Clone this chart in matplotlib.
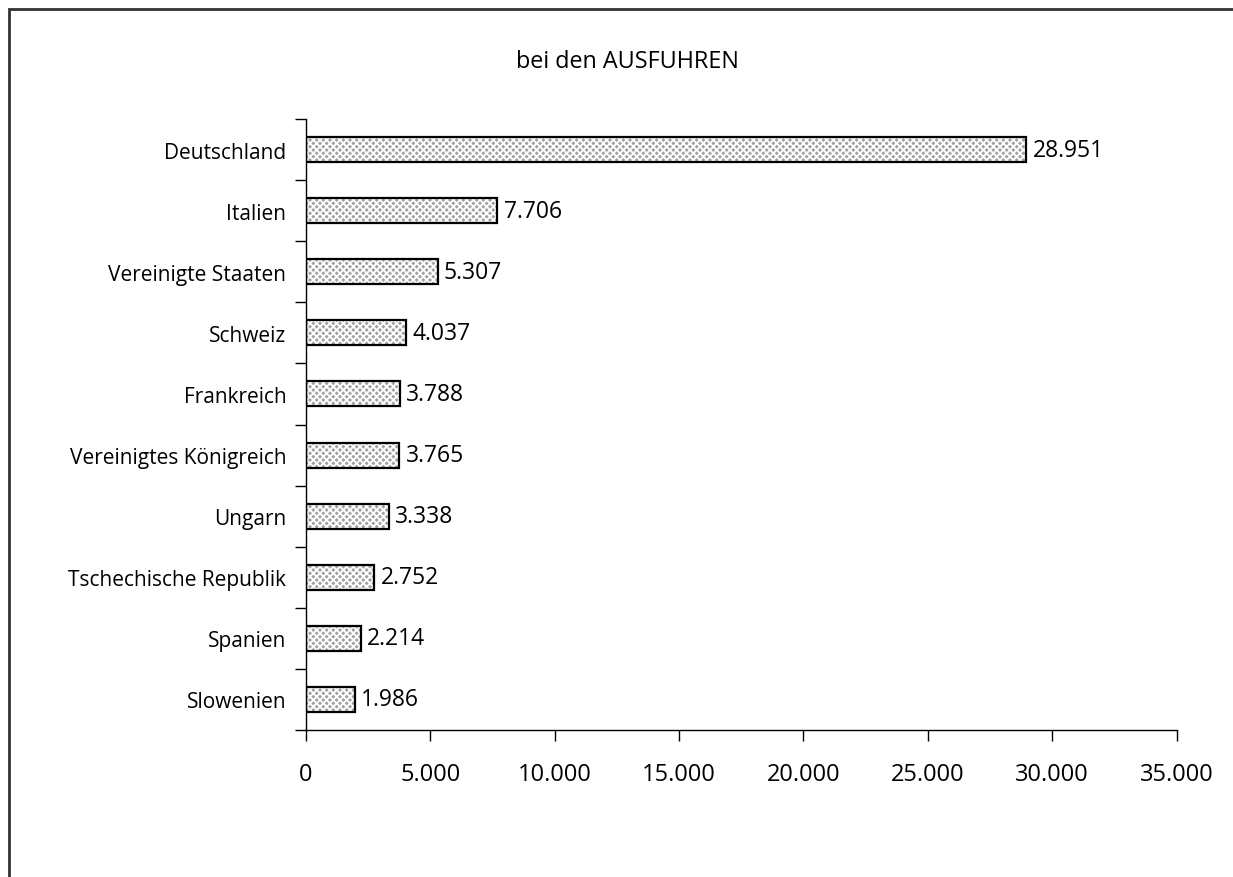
import matplotlib.pyplot as plt
from matplotlib.patches import Rectangle
from matplotlib.ticker import FixedLocator, FuncFormatter

countries = ['Deutschland', 'Italien', 'Vereinigte Staaten', 'Schweiz', 'Frankreich',
             'Vereinigtes Königreich', 'Ungarn', 'Tschechische Republik', 'Spanien', 'Slowenien']
values = [28951, 7706, 5307, 4037, 3788, 3765, 3338, 2752, 2214, 1986]
x_ticks = [0, 5000, 10000, 15000, 20000, 25000, 30000, 35000]
title = 'bei den AUSFUHREN'


def de_fmt(v, pos=None):
    return f'{int(v):,}'.replace(',', '.')


plt.rcParams['font.family'] = ['Open Sans', 'DejaVu Sans']
plt.rcParams['hatch.linewidth'] = 1.3

W, H = 1233, 878
fig = plt.figure(figsize=(W / 100, H / 100), dpi=100)
ax = fig.add_axes([305.7 / W, 1 - 731 / H, (1176.7 - 305.7) / W, (731 - 120) / H])

pos = list(range(len(countries)))
# checkered fill, then black outline on top
ax.barh(pos, values, height=0.41, color='#a2a2a2', edgecolor='white',
        hatch='xxxxx', linewidth=0)
ax.barh(pos, values, height=0.41, fill=False, edgecolor='black', linewidth=1.6)

for p, v in zip(pos, values):
    ax.text(v + 250, p, de_fmt(v), va='center', ha='left', fontsize=16.5)

ax.set_xlim(0, 35000)
ax.set_ylim(len(countries) - 0.5, -0.5)

ax.set_xticks(x_ticks)
ax.xaxis.set_major_formatter(FuncFormatter(de_fmt))
ax.tick_params(axis='x', direction='out', length=8, width=1, pad=15, labelsize=17)

ax.set_yticks(pos)
ax.set_yticklabels(countries)
ax.tick_params(axis='y', which='major', length=0, pad=14, labelsize=15)
ax.yaxis.set_minor_locator(FixedLocator([p - 0.5 for p in pos] + [len(pos) - 0.5]))
ax.tick_params(axis='y', which='minor', direction='out', length=8, width=1)

for s in ['top', 'right']:
    ax.spines[s].set_visible(False)
for s in ['left', 'bottom']:
    ax.spines[s].set_linewidth(1)

fig.text(627 / W, 1 - 62 / H, title, ha='center', va='center', fontsize=16.8)

fig.patches.append(Rectangle((9 / W, -0.05), 1.1, 1 - 10 / H + 0.05,
                             transform=fig.transFigure, fill=False,
                             edgecolor='#333333', linewidth=2))

fig.savefig('out.png', dpi=100)
